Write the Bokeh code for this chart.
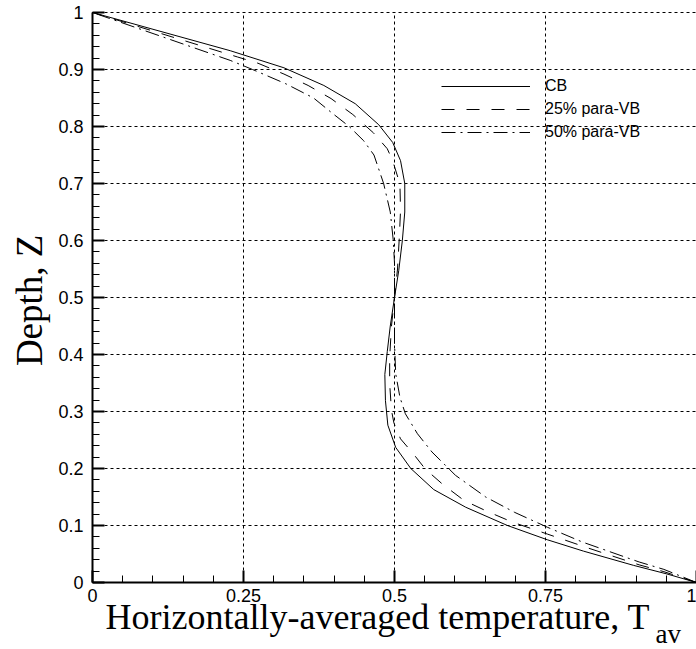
import numpy as np
from bokeh.plotting import figure
from bokeh.models import Range1d, FixedTicker, Label
from bokeh.embed import file_html
from bokeh.resources import INLINE

# Horizontally-averaged temperature profiles T_av(Z), listed from the bottom (Z=0) to the top (Z=1)
t_cb = [1.000, 0.951, 0.896, 0.813, 0.753, 0.687, 0.618, 0.565, 0.527, 0.502, 0.489, 0.485,
        0.484, 0.488, 0.493, 0.500, 0.507, 0.513, 0.517, 0.517, 0.510, 0.497, 0.474, 0.435,
        0.383, 0.317, 0.228, 0.000]
z_cb = [0.000, 0.015, 0.030, 0.055, 0.075, 0.100, 0.132, 0.163, 0.200, 0.237, 0.276, 0.319,
        0.365, 0.405, 0.450, 0.500, 0.547, 0.600, 0.650, 0.700, 0.740, 0.772, 0.803, 0.840,
        0.872, 0.903, 0.933, 1.000]

t_vb25 = [1.000, 0.946, 0.905, 0.822, 0.753, 0.695, 0.653, 0.615, 0.579, 0.551, 0.531, 0.510,
          0.499, 0.495, 0.492, 0.492, 0.495, 0.500, 0.505, 0.508, 0.510, 0.509, 0.497, 0.488,
          0.465, 0.431, 0.395, 0.357, 0.317, 0.274, 0.240, 0.000]
z_vb25 = [0.000, 0.019, 0.031, 0.060, 0.085, 0.106, 0.125, 0.144, 0.173, 0.199, 0.226, 0.252,
          0.280, 0.302, 0.349, 0.395, 0.450, 0.500, 0.550, 0.606, 0.653, 0.699, 0.740, 0.761,
          0.789, 0.821, 0.849, 0.872, 0.892, 0.911, 0.922, 1.000]

t_vb50 = [1.000, 0.946, 0.905, 0.811, 0.753, 0.699, 0.651, 0.601, 0.562, 0.538, 0.518, 0.509,
          0.502, 0.500, 0.500, 0.500, 0.498, 0.493, 0.482, 0.466, 0.449, 0.425, 0.395, 0.366,
          0.320, 0.265, 0.228, 0.000]
z_vb50 = [0.000, 0.023, 0.036, 0.071, 0.097, 0.123, 0.150, 0.188, 0.229, 0.261, 0.296, 0.325,
          0.366, 0.420, 0.500, 0.560, 0.600, 0.650, 0.700, 0.750, 0.775, 0.800, 0.825, 0.850,
          0.875, 0.900, 0.916, 1.000]

series_names = ["CB", "25% para-VB", "50% para-VB"]

x_ticks = [0, 0.25, 0.5, 0.75, 1]
x_tick_labels = ["0", "0.25", "0.5", "0.75", "1"]
y_ticks = [0, 0.1, 0.2, 0.3, 0.4, 0.5, 0.6, 0.7, 0.8, 0.9, 1]
y_tick_labels = ["0", "0.1", "0.2", "0.3", "0.4", "0.5", "0.6", "0.7", "0.8", "0.9", "1"]

x_minor = [round(v, 2) for v in np.arange(0, 1.0001, 0.05)]
y_minor = [round(v, 2) for v in np.arange(0, 1.0001, 0.02)]

# canvas geometry: the data box [0,1]x[0,1] sits at pixels x 92..696, y 582..12;
# the ranges are widened so that titles and tick labels live inside the frame
W, H = 696, 649
LEFT, TOP, BOTTOM = 92, 12, 582
sx = (W - LEFT) / 1.0
sy = (BOTTOM - TOP) / 1.0
x_lo = -LEFT / sx
y_lo = -(H - BOTTOM) / sy
y_hi = 1 + TOP / sy

p = figure(width=W, height=H, output_backend="svg", toolbar_location=None,
           x_range=Range1d(x_lo, 1), y_range=Range1d(y_lo, y_hi),
           min_border=0, min_border_left=0, min_border_right=0,
           min_border_top=0, min_border_bottom=0)
p.outline_line_color = None
p.background_fill_color = "white"
p.border_fill_color = "white"
p.xgrid.visible = False
p.ygrid.visible = False

# dashed grid confined to the data box
gx = x_ticks[1:]
gy = y_ticks[1:]
p.segment(x0=gx, y0=[y_ticks[0]] * len(gx), x1=gx, y1=[y_ticks[-1]] * len(gx),
          line_color="black", line_width=1, line_dash="3 3")
p.segment(x0=[x_ticks[0]] * len(gy), y0=gy, x1=[x_ticks[-1]] * len(gy), y1=gy,
          line_color="black", line_width=1, line_dash="3 3")

# axes pinned to the data origin, inward ticks, sans-serif tick labels
for ax, ticks, labels, minor in ((p.xaxis[0], x_ticks, x_tick_labels, x_minor),
                                 (p.yaxis[0], y_ticks, y_tick_labels, y_minor)):
    ax.fixed_location = 0
    ax.bounds = (ticks[0], ticks[-1])
    ax.ticker = FixedTicker(ticks=ticks, minor_ticks=minor)
    ax.major_label_overrides = {t: l for t, l in zip(ticks, labels)}
    ax.axis_line_color = "black"
    ax.axis_line_width = 2
    ax.major_tick_in = 12
    ax.major_tick_out = 0
    ax.major_tick_line_width = 2
    ax.major_tick_line_color = "black"
    ax.minor_tick_in = 7
    ax.minor_tick_out = 0
    ax.minor_tick_line_color = "black"
    ax.major_label_text_font = "Liberation Sans"
    ax.major_label_text_font_size = "18px"
    ax.major_label_text_color = "black"
p.xaxis[0].major_label_standoff = 6
p.yaxis[0].major_label_standoff = 9

p.line(t_cb, z_cb, line_color="black", line_width=1, legend_label=series_names[0])
p.line(t_vb25, z_vb25, line_color="black", line_width=1, line_dash="13 12",
       legend_label=series_names[1])
p.line(t_vb50, z_vb50, line_color="black", line_width=1, line_dash="14 5 2 5",
       legend_label=series_names[2])

leg = p.legend[0]
leg.location = (441, H - 142)
leg.padding = 0
leg.margin = 0
leg.spacing = 3
leg.glyph_width = 89
leg.glyph_height = 20
leg.label_height = 20
leg.label_standoff = 15
leg.label_text_font = "Liberation Sans"
leg.label_text_font_size = "16px"
leg.label_text_color = "black"
leg.border_line_color = None
leg.background_fill_alpha = 0

# axis titles
p.add_layout(Label(x=0.0215, y=-0.061, text="Horizontally-averaged temperature, T",
                   text_font="Liberation Serif", text_font_size="36px",
                   text_align="left", text_baseline="alphabetic", text_color="black"))
p.add_layout(Label(x=0.932, y=-0.090, text="av",
                   text_font="Liberation Serif", text_font_size="27px",
                   text_align="left", text_baseline="alphabetic", text_color="black"))
p.add_layout(Label(x=-0.104, y=0.495, text="Depth, Z", angle=np.pi / 2,
                   text_font="Liberation Serif", text_font_size="37px",
                   text_align="center", text_baseline="middle", text_color="black"))

open("out.html", "w").write(file_html(p, INLINE))
